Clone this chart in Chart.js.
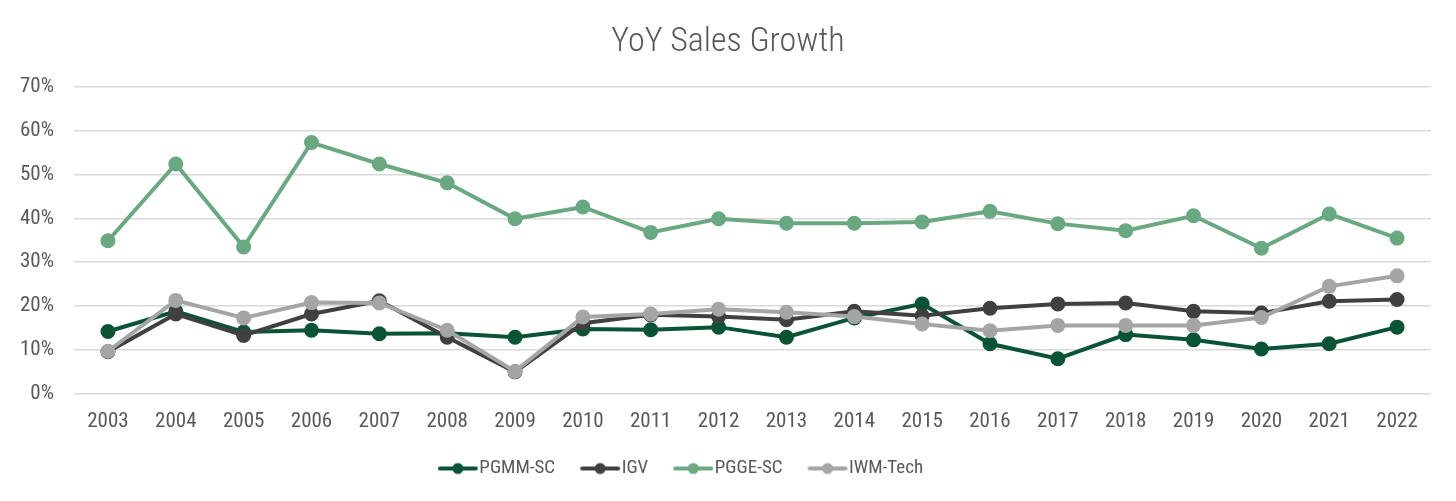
<!DOCTYPE html>
<html>
<head>
<meta charset="utf-8">
<script src="https://cdn.jsdelivr.net/npm/chart.js@4"></script>
<style>
  html, body { margin: 0; padding: 0; background: #fff; }
  #wrap { width: 1456px; height: 501px; position: relative; }
</style>
</head>
<body>
<div id="wrap"><canvas id="c"></canvas></div>
<script>
const years = ['2003','2004','2005','2006','2007','2008','2009','2010','2011','2012','2013','2014','2015','2016','2017','2018','2019','2020','2021','2022'];
const pgmmSC = [14.2, 18.8, 14.1, 14.5, 13.7, 13.8, 12.9, 14.8, 14.6, 15.2, 12.9, 17.3, 20.5, 11.4, 8.0, 13.5, 12.3, 10.2, 11.4, 15.2];
const igv    = [9.6, 18.2, 13.3, 18.2, 21.2, 12.9, 5.0, 16.1, 18.0, 17.6, 16.9, 18.8, 17.8, 19.5, 20.5, 20.7, 18.8, 18.4, 21.1, 21.5];
const pggeSC = [34.9, 52.4, 33.5, 57.3, 52.4, 48.1, 39.9, 42.6, 36.8, 39.9, 38.9, 38.9, 39.2, 41.6, 38.8, 37.2, 40.6, 33.2, 41.0, 35.5];
const iwmTech= [9.7, 21.3, 17.3, 20.8, 20.7, 14.5, 5.1, 17.5, 18.2, 19.3, 18.6, 17.6, 15.9, 14.4, 15.6, 15.6, 15.6, 17.4, 24.5, 26.9];
const yTicks = [0, 10, 20, 30, 40, 50, 60, 70];

const FONT = "'Roboto Condensed','Liberation Sans Narrow','Roboto',sans-serif";
const TXT = '#595959';

// legend icon: line (40px) with a dot; canvas wider so the icon sits left of the box centre
const BOXW = 32;
function legendIcon(color) {
  const c = document.createElement('canvas');
  c.width = 80; c.height = 14;
  const g = c.getContext('2d');
  const x0 = 40 - BOXW / 2;
  g.strokeStyle = color; g.lineWidth = 4; g.lineCap = 'round';
  g.beginPath(); g.moveTo(x0 + 2, 7); g.lineTo(x0 + 38, 7); g.stroke();
  g.fillStyle = color;
  g.beginPath(); g.arc(x0 + 20, 7, 5.5, 0, Math.PI * 2); g.fill();
  return c;
}

function ds(label, data, color, order) {
  return {
    label, data, order,
    borderColor: color, backgroundColor: color,
    pointBackgroundColor: color, pointBorderColor: color,
    borderWidth: 4, pointRadius: 5.5, pointHoverRadius: 5.5,
    tension: 0, fill: false,
    icon: legendIcon(color)
  };
}

// Excel places the legend slightly left of centre, title centred on the page
const blockShift = {
  id: 'blockShift',
  beforeDraw(chart) {
    const lg = chart.legend;
    if (lg) { lg.right = lg.right - 70; }
    const tb = chart.titleBlock;
    if (tb) { tb.right = tb.right + 25; }
  }
};

new Chart(document.getElementById('c'), {
  type: 'line',
  data: {
    labels: years,
    datasets: [
      ds('PGMM-SC', pgmmSC, '#0A5435', 4),
      ds('IGV', igv, '#404040', 3),
      ds('PGGE-SC', pggeSC, '#6AA882', 2),
      ds('IWM-Tech', iwmTech, '#A5A5A5', 1)
    ]
  },
  plugins: [blockShift],
  options: {
    responsive: true,
    maintainAspectRatio: false,
    animation: false,
    devicePixelRatio: 1,
    layout: { padding: { left: 0, right: 25, top: 22, bottom: 13 } },
    plugins: {
      title: {
        display: true,
        text: 'YoY Sales Growth',
        color: TXT,
        font: { family: FONT, size: 34, weight: '300' },
        padding: { top: 0, bottom: 24 }
      },
      legend: {
        position: 'bottom',
        labels: {
          usePointStyle: true,
          pointStyleWidth: BOXW,
          color: TXT,
          font: { family: FONT, size: 19 },
          padding: 25,
          generateLabels(chart) {
            return chart.data.datasets.map((d, i) => ({
              text: d.label,
              pointStyle: d.icon,
              fillStyle: d.borderColor,
              strokeStyle: d.borderColor,
              lineWidth: 0,
              hidden: false,
              datasetIndex: i,
              fontColor: TXT
            }));
          }
        }
      },
      tooltip: { enabled: false }
    },
    scales: {
      x: {
        offset: true,
        grid: { display: false, drawTicks: true, tickLength: 15 },
        border: { display: false },
        ticks: { color: TXT, font: { family: FONT, size: 21 }, padding: 0 }
      },
      y: {
        min: 0, max: 70,
        afterBuildTicks(axis) { axis.ticks = yTicks.map(v => ({ value: v })); },
        grid: { color: '#D9D9D9', lineWidth: 1.5, drawTicks: false },
        border: { display: false },
        ticks: { color: TXT, font: { family: FONT, size: 21 }, padding: 20, callback: v => v + '%' }
      }
    }
  }
});
</script>
</body>
</html>
